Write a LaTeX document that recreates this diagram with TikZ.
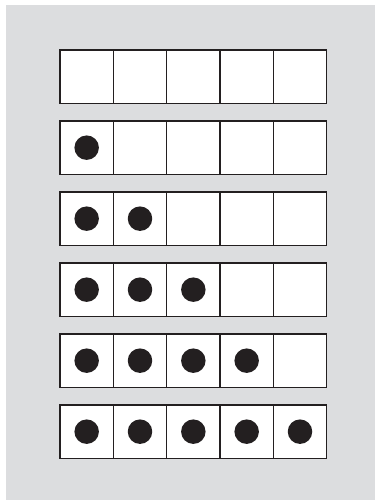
\documentclass[tikz,border=0pt]{standalone}
\usepackage{tikz}
\definecolor{paneGrey}{RGB}{220,221,223}
\definecolor{inkDark}{RGB}{35,31,32}

\begin{document}
\begin{tikzpicture}[x=0.02cm, y=-0.02cm,
  cell/.style={draw=inkDark, line width=0.7pt, fill=white, minimum size=1.0667cm, inner sep=0pt, outer sep=0pt},
  counter/.style={circle, fill=inkDark, minimum size=0.49cm, inner sep=0pt}]
  % page and grey panel
  \useasboundingbox (0,0) rectangle (375,500);
  \fill[paneGrey] (6,5) rectangle (375,500);

  % six rows of five cells, row r holds r counters
  \foreach \r in {0,...,5} {
    \foreach \c in {1,...,5} {
      \node[cell] (C\r\c) at ({60+53.333*(\c-0.5)}, {76.667+71*\r}) {};
    }
  }
  \foreach \r in {1,...,5} {
    \foreach \c in {1,...,\r} {
      \node[counter] (D\r\c) at (C\r\c) {};
    }
  }
\end{tikzpicture}
\end{document}
